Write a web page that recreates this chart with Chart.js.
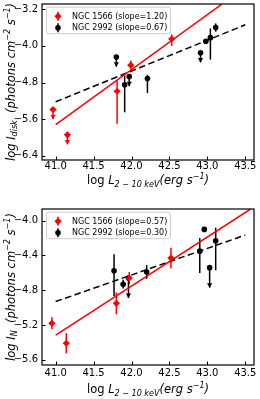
<!DOCTYPE html>
<html lang="en">
<head>
<meta charset="UTF-8">
<title>NGC 1566 / NGC 2992</title>
<script src="https://cdn.jsdelivr.net/npm/chart.js"></script>
<style>
  html, body { margin: 0; padding: 0; background: #fff; }
  #wrap { position: relative; width: 260px; height: 399px; }
  canvas { position: absolute; left: 0; }
</style>
</head>
<body>
<div id="wrap">
  <canvas id="diskChart" width="260" height="199" style="top:0"></canvas>
  <canvas id="nChart" width="260" height="200" style="top:199px"></canvas>
</div>
<script>
// shared x axis (log L 2-10 keV)
const xTicks = [41.0, 41.5, 42.0, 42.5, 43.0, 43.5];

// --- top panel: log I_disk ---
const diskTicks = [-6.4, -5.6, -4.8, -4.0, -3.2];
const disk1566X  = [40.965, 41.155, 41.81, 41.99, 42.53];
const disk1566Y  = [-5.39, -5.94, -4.99, -4.42, -3.85];
const disk1566Lo = [0.21, 0.21, 0.71, 0.10, 0.15];
const disk1566Hi = [0, 0, 0.23, 0.10, 0.10];
const disk1566UL = [true, true, false, false, false];
const disk1566FitX = [41.0, 43.19];
const disk1566FitY = [-5.72, -3.09];

const disk2992X  = [41.80, 41.91, 41.97, 42.21, 42.91, 42.98, 43.04, 43.11];
const disk2992Y  = [-4.245, -4.85, -4.67, -4.71, -4.15, -3.90, -3.82, -3.60];
const disk2992Lo = [0.21, 0.60, 0.21, 0.32, 0.21, 0.05, 0.48, 0.09];
const disk2992Hi = [0, 0.20, 0.05, 0.08, 0, 0.05, 0.20, 0.09];
const disk2992UL = [true, false, true, false, true, false, false, false];
const disk2992FitX = [41.0, 43.5];
const disk2992FitY = [-5.22, -3.54];

// --- bottom panel: log I_N ---
const nTicks = [-5.6, -5.2, -4.8, -4.4, -4.0];
const n1566X  = [40.95, 41.14, 41.80, 41.97, 42.52];
const n1566Y  = [-5.18, -5.41, -4.95, -4.66, -4.43];
const n1566Lo = [0.07, 0.115, 0.125, 0.07, 0.12];
const n1566Hi = [0.07, 0.115, 0.125, 0.07, 0.12];
const n1566UL = [false, false, false, false, false];
const n1566FitX = [41.0, 43.57];
const n1566FitY = [-5.315, -3.865];

const n2992X  = [41.77, 41.89, 41.96, 42.20, 42.90, 42.96, 43.03, 43.11];
const n2992Y  = [-4.575, -4.73, -4.66, -4.59, -4.35, -4.10, -4.54, -4.23];
const n2992Lo = [0.29, 0.05, 0.23, 0.08, 0.25, 0.03, 0.23, 0.34];
const n2992Hi = [0.19, 0.05, 0, 0.08, 0.15, 0.03, 0, 0.15];
const n2992UL = [false, false, true, false, false, false, true, false];
const n2992FitX = [41.0, 43.5];
const n2992FitY = [-4.93, -4.165];

// legend texts
const diskLegend = ["NGC 1566 (slope=1.20)", "NGC 2992 (slope=0.67)"];
const nLegend = ["NGC 1566 (slope=0.57)", "NGC 2992 (slope=0.30)"];

// axis titles, as pieces: [text, italic, position]
const xTitle = [["log ", false, "base"], ["L", true, "base"], ["2 \u2212 10 keV", true, "sub"],
                ["(erg s", true, "base"], ["\u22121", true, "sup"], [")", true, "base"]];
const diskTitle = [["log I", true, "base"], ["disk", true, "sub"], ["  (photons cm", true, "base"],
                   ["\u22122", true, "sup"], [" s", true, "base"], ["\u22121", true, "sup"], [")", true, "base"]];
const nTitle = [["log I", true, "base"], ["N", true, "sub"], ["  (photons cm", true, "base"],
                ["\u22122", true, "sup"], [" s", true, "base"], ["\u22121", true, "sup"], [")", true, "base"]];

const FONT = '"DejaVu Sans", sans-serif';
const RED = "#ff0000";

function pts(xs, ys) {
    return xs.map((x, i) => ({ x: x, y: ys[i] }));
}

function fmt(v) {
    return (v < 0 ? "\u2212" : "") + Math.abs(v).toFixed(1);
}

function richText(ctx, segs, x, y, size) {
    const parts = segs.map(s => {
        const fs = s[2] === "base" ? size : size * 0.7;
        const font = (s[1] ? "italic " : "") + fs + "px " + FONT;
        ctx.font = font;
        const dy = s[2] === "sub" ? size * 0.25 : (s[2] === "sup" ? -size * 0.42 : 0);
        return { t: s[0], font: font, w: ctx.measureText(s[0]).width, dy: dy };
    });
    const total = parts.reduce((a, p) => a + p.w, 0);
    let cx = x - total / 2;
    parts.forEach(p => {
        ctx.font = p.font;
        ctx.fillText(p.t, cx, y + p.dy);
        cx += p.w;
    });
}

function drawMarker(ctx, x, y, color, diamond) {
    ctx.fillStyle = color;
    ctx.beginPath();
    if (diamond) {
        const r = 3.6;
        ctx.moveTo(x - r, y); ctx.lineTo(x, y - r); ctx.lineTo(x + r, y); ctx.lineTo(x, y + r);
        ctx.closePath();
    } else {
        ctx.arc(x, y, 2.8, 0, Math.PI * 2);
    }
    ctx.fill();
}

function makePanel(id, p) {
    const panelPlugin = {
        id: "panel",
        beforeDatasetsDraw(chart) {
            const ctx = chart.ctx, xs = chart.scales.x, ys = chart.scales.y;
            ctx.save();
            p.errs.forEach(e => {
                ctx.strokeStyle = e.color;
                ctx.fillStyle = e.color;
                ctx.lineWidth = 1.5;
                e.x.forEach((xv, i) => {
                    const px = xs.getPixelForValue(xv);
                    const lo = ys.getPixelForValue(e.y[i] - e.lo[i]);
                    const hi = ys.getPixelForValue(e.y[i] + e.hi[i]);
                    ctx.beginPath();
                    ctx.moveTo(px, hi);
                    ctx.lineTo(px, lo);
                    ctx.stroke();
                    if (e.ul[i]) {
                        ctx.beginPath();
                        ctx.moveTo(px - 2.6, lo - 4.5);
                        ctx.lineTo(px + 2.6, lo - 4.5);
                        ctx.lineTo(px, lo);
                        ctx.closePath();
                        ctx.fill();
                    }
                });
            });
            ctx.restore();
        },
        afterDraw(chart) {
            const ctx = chart.ctx, a = chart.chartArea, xs = chart.scales.x, ys = chart.scales.y;
            ctx.save();
            // frame
            ctx.strokeStyle = "#000";
            ctx.lineWidth = 1.2;
            ctx.strokeRect(a.left, a.top, a.right - a.left, a.bottom - a.top);
            // inward ticks
            ctx.lineWidth = 1;
            ctx.beginPath();
            xTicks.forEach(v => {
                const px = Math.round(xs.getPixelForValue(v)) + 0.5;
                ctx.moveTo(px, a.bottom); ctx.lineTo(px, a.bottom - 3.5);
            });
            p.yTicks.forEach(v => {
                const py = Math.round(ys.getPixelForValue(v)) + 0.5;
                ctx.moveTo(a.left, py); ctx.lineTo(a.left + 3.5, py);
            });
            ctx.stroke();
            // axis titles
            ctx.fillStyle = "#000";
            ctx.textBaseline = "alphabetic";
            richText(ctx, xTitle, (a.left + a.right) / 2, p.xTitleY, 11.5);
            ctx.translate(p.yTitleX, (a.top + a.bottom) / 2);
            ctx.rotate(-Math.PI / 2);
            richText(ctx, p.yTitle, 0, 0, 11.5);
            ctx.restore();
            // legend
            ctx.save();
            const lx = a.left + 4.5, ly = a.top + 3.2, lw = 124, lh = 26.5;
            ctx.fillStyle = "rgba(255,255,255,0.8)";
            ctx.strokeStyle = "#cccccc";
            ctx.lineWidth = 1;
            ctx.beginPath();
            ctx.roundRect(lx, ly, lw, lh, 2);
            ctx.fill();
            ctx.stroke();
            ctx.font = "8px " + FONT;
            ctx.textBaseline = "middle";
            const rows = [{ c: RED, d: true }, { c: "#000", d: false }];
            rows.forEach((r, i) => {
                const ry = a.top + 12.3 + i * 11.4;
                const mx = a.left + 16;
                ctx.strokeStyle = r.c;
                ctx.lineWidth = 1.5;
                ctx.beginPath();
                ctx.moveTo(mx, ry - 4.5); ctx.lineTo(mx, ry + 4.5);
                ctx.stroke();
                drawMarker(ctx, mx, ry, r.c, r.d);
                ctx.fillStyle = "#000";
                ctx.fillText(p.legend[i], a.left + 30, ry + 0.5);
            });
            ctx.restore();
        }
    };

    return new Chart(document.getElementById(id), {
        type: "scatter",
        data: {
            datasets: [
                { label: "fit 1566", data: pts(p.fit1566X, p.fit1566Y), showLine: true, borderColor: RED,
                  borderWidth: 1.5, pointRadius: 0 },
                { label: "fit 2992", data: pts(p.fit2992X, p.fit2992Y), showLine: true, borderColor: "#000",
                  borderWidth: 1.5, borderDash: [6.5, 3.5], pointRadius: 0 },
                { label: "NGC 1566", data: pts(p.errs[0].x, p.errs[0].y), pointStyle: "rectRot", pointRadius: 3.6,
                  backgroundColor: RED, borderColor: RED, borderWidth: 0 },
                { label: "NGC 2992", data: pts(p.errs[1].x, p.errs[1].y), pointStyle: "circle", pointRadius: 2.8,
                  backgroundColor: "#000", borderColor: "#000", borderWidth: 0 }
            ]
        },
        options: {
            responsive: false,
            animation: false,
            devicePixelRatio: 1,
            layout: { padding: { left: 0, right: 6, top: p.top, bottom: 0 } },
            plugins: { legend: { display: false }, tooltip: { enabled: false } },
            scales: {
                x: {
                    type: "linear", min: 40.82, max: 43.615,
                    afterBuildTicks: s => { s.ticks = xTicks.map(v => ({ value: v })); },
                    afterFit: s => { s.height = p.xh; s.paddingLeft = 0; s.paddingRight = 0; },
                    grid: { display: false, drawTicks: false },
                    border: { display: false },
                    ticks: { color: "#000", font: { family: FONT, size: 10 }, padding: p.xPad, maxRotation: 0,
                             callback: v => fmt(v) }
                },
                y: {
                    type: "linear", min: p.ymin, max: p.ymax,
                    afterBuildTicks: s => { s.ticks = p.yTicks.map(v => ({ value: v })); },
                    afterFit: s => { s.width = 42; s.paddingTop = 0; s.paddingBottom = 0; },
                    grid: { display: false, drawTicks: false },
                    border: { display: false },
                    ticks: { color: "#000", font: { family: FONT, size: 10 }, padding: 4,
                             callback: v => fmt(v) }
                }
            }
        },
        plugins: [panelPlugin]
    });
}

makePanel("diskChart", {
    top: 2, xh: 39, xPad: 0, ymin: -6.49, ymax: -3.086, yTicks: diskTicks,
    xTitleY: 184, yTitleX: 14.5, yTitle: diskTitle, legend: diskLegend,
    fit1566X: disk1566FitX, fit1566Y: disk1566FitY, fit2992X: disk2992FitX, fit2992Y: disk2992FitY,
    errs: [
        { color: RED, x: disk1566X, y: disk1566Y, lo: disk1566Lo, hi: disk1566Hi, ul: disk1566UL },
        { color: "#000", x: disk2992X, y: disk2992Y, lo: disk2992Lo, hi: disk2992Hi, ul: disk2992UL }
    ]
});

makePanel("nChart", {
    top: 10, xh: 34, xPad: 2.5, ymin: -5.66, ymax: -3.865, yTicks: nTicks,
    xTitleY: 194, yTitleX: 14.5, yTitle: nTitle, legend: nLegend,
    fit1566X: n1566FitX, fit1566Y: n1566FitY, fit2992X: n2992FitX, fit2992Y: n2992FitY,
    errs: [
        { color: RED, x: n1566X, y: n1566Y, lo: n1566Lo, hi: n1566Hi, ul: n1566UL },
        { color: "#000", x: n2992X, y: n2992Y, lo: n2992Lo, hi: n2992Hi, ul: n2992UL }
    ]
});
</script>
</body>
</html>
